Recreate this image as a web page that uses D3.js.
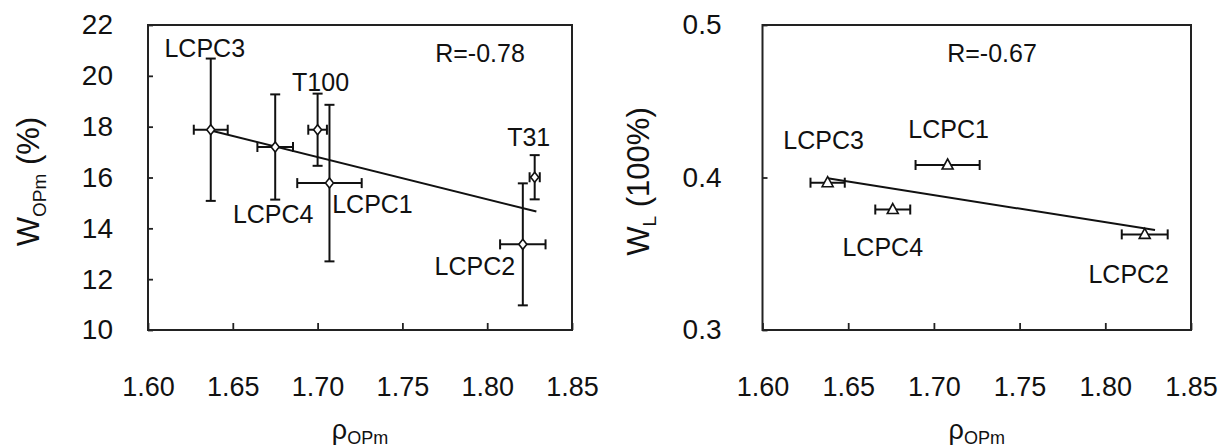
<!DOCTYPE html>
<html>
<head>
<meta charset="utf-8">
<script src="https://cdn.jsdelivr.net/npm/d3@7"></script>
<style>
  html, body { margin: 0; padding: 0; background: #fff; }
  svg { display: block; }
  text { font-family: "Liberation Sans", Arial, sans-serif; fill: #111; }
</style>
</head>
<body>
<svg id="chart" width="1218" height="447"></svg>
<script>
// ---------- data ----------
const xTickValues = [1.60, 1.65, 1.70, 1.75, 1.80, 1.85];
const leftYTicks = [10, 12, 14, 16, 18, 20, 22];
const rightYTicks = [0.3, 0.4, 0.5];

const samplesLeft = ["LCPC3", "LCPC4", "T100", "LCPC1", "T31", "LCPC2"];
const rhoLeft     = [1.637, 1.675, 1.700, 1.707, 1.828, 1.821];
const rhoErrLeft  = [0.010, 0.0105, 0.0055, 0.019, 0.003, 0.0134];
const wOPm        = [17.88, 17.20, 17.88, 15.78, 16.01, 13.37];
const wOPmErr     = [2.80, 2.07, 1.42, 3.08, 0.87, 2.40];
const fitLeftX    = [1.637, 1.829];
const fitLeftY    = [17.85, 14.66];
const rLeft       = "R=-0.78";

const samplesRight = ["LCPC3", "LCPC4", "LCPC1", "LCPC2"];
const rhoRight     = [1.638, 1.676, 1.708, 1.823];
const rhoErrRight  = [0.010, 0.0102, 0.0187, 0.0134];
const wL           = [0.3966, 0.379, 0.4082, 0.3627];
const fitRightX    = [1.638, 1.829];
const fitRightY    = [0.3995, 0.3655];
const rRight       = "R=-0.67";

// label offsets (px) relative to each point
const labelOffLeft  = [[-6, -73], [-2, 76], [3, -39], [43, 30], [-6, -31], [-48, 31]];
const labelOffRight = [[-4, -34], [-10, 46], [1, -27], [-16, 49]];

// ---------- drawing ----------
const svg = d3.select("#chart");
const fmt2 = d3.format(".2f");

function panel(opts) {
  const x = d3.scaleLinear().domain([1.60, 1.85]).range([opts.left, opts.right]);
  const y = d3.scaleLinear().domain(opts.yDomain).range([opts.bottom, opts.top]);
  const g = svg.append("g");

  // x axis (inward ticks)
  g.append("g")
    .attr("transform", `translate(0,${opts.bottom})`)
    .call(d3.axisBottom(x).tickValues(xTickValues).tickFormat(fmt2).tickSize(-7).tickPadding(47))
    .call(a => a.select(".domain").remove())
    .call(a => a.selectAll("line").attr("stroke", "#222").attr("stroke-width", 1.8))
    .call(a => a.selectAll("text").attr("font-size", 27).attr("fill", "#111")
      .attr("font-family", '"Liberation Sans", Arial, sans-serif'));

  // y axis
  g.append("g")
    .attr("transform", `translate(${opts.left},0)`)
    .call(d3.axisLeft(y).tickValues(opts.yTicks).tickFormat(opts.yFormat).tickSize(-5).tickPadding(opts.yPad))
    .call(a => a.select(".domain").remove())
    .call(a => a.selectAll("line").attr("stroke", "#222").attr("stroke-width", 1.8))
    .call(a => a.selectAll("text").attr("font-size", 28).attr("fill", "#111")
      .attr("font-family", '"Liberation Sans", Arial, sans-serif'));

  // frame
  g.append("rect")
    .attr("x", opts.left).attr("y", opts.top)
    .attr("width", opts.right - opts.left).attr("height", opts.bottom - opts.top)
    .attr("fill", "none").attr("stroke", "#222").attr("stroke-width", 2);

  // regression line
  g.append("line")
    .attr("x1", x(opts.fitX[0])).attr("y1", y(opts.fitY[0]))
    .attr("x2", x(opts.fitX[1])).attr("y2", y(opts.fitY[1]))
    .attr("stroke", "#111").attr("stroke-width", 2);

  const pts = opts.names.map((n, i) => ({
    name: n, x: opts.xs[i], xe: opts.xe[i], y: opts.ys[i],
    ye: opts.ye ? opts.ye[i] : 0, off: opts.off[i]
  }));

  const eb = g.append("g").attr("stroke", "#111").attr("stroke-width", 2).attr("fill", "none");
  const cap = 5;
  pts.forEach(p => {
    const cx = x(p.x), cy = y(p.y);
    const x0 = x(p.x - p.xe), x1 = x(p.x + p.xe);
    eb.append("line").attr("x1", x0).attr("x2", x1).attr("y1", cy).attr("y2", cy);
    eb.append("line").attr("x1", x0).attr("x2", x0).attr("y1", cy - cap).attr("y2", cy + cap);
    eb.append("line").attr("x1", x1).attr("x2", x1).attr("y1", cy - cap).attr("y2", cy + cap);
    if (p.ye) {
      const y0 = y(p.y - p.ye), y1 = y(p.y + p.ye);
      eb.append("line").attr("x1", cx).attr("x2", cx).attr("y1", y0).attr("y2", y1);
      eb.append("line").attr("x1", cx - cap).attr("x2", cx + cap).attr("y1", y0).attr("y2", y0);
      eb.append("line").attr("x1", cx - cap).attr("x2", cx + cap).attr("y1", y1).attr("y2", y1);
    }
  });

  // markers
  g.append("g").selectAll("path").data(pts).join("path")
    .attr("transform", d => `translate(${x(d.x)},${y(d.y)})`)
    .attr("d", opts.marker)
    .attr("fill", "#fff").attr("stroke", "#111").attr("stroke-width", 1.6);

  // labels
  g.append("g").selectAll("text").data(pts).join("text")
    .attr("x", d => x(d.x) + d.off[0]).attr("y", d => y(d.y) + d.off[1])
    .attr("text-anchor", "middle").attr("font-size", 25)
    .text(d => d.name);

  // R label
  g.append("text").attr("x", opts.rPos[0]).attr("y", opts.rPos[1])
    .attr("text-anchor", "middle").attr("font-size", 25).text(opts.rText);

  // x title  rho_OPm
  const xt = g.append("text")
    .attr("x", (opts.left + opts.right) / 2).attr("y", 439)
    .attr("text-anchor", "middle");
  xt.append("tspan").attr("font-size", 27).text("ρ");
  xt.append("tspan").attr("font-size", 18).attr("dy", 5).text("OPm");

  // y title
  const yt = g.append("text")
    .attr("transform", `translate(${opts.yTitleX},${(opts.top + opts.bottom) / 2 + 4}) rotate(-90)`)
    .attr("text-anchor", "middle");
  yt.append("tspan").attr("font-size", 31).text("W");
  yt.append("tspan").attr("font-size", 19).attr("dy", 7).text(opts.ySub);
  yt.append("tspan").attr("font-size", 31).attr("dy", -7).text(opts.yRest);
}

const diamond = "M0,-5 L4,0 L0,5 L-4,0 Z";
const triangle = "M0,-6 L5.5,4 L-5.5,4 Z";

panel({
  left: 148, right: 572, top: 25, bottom: 330,
  yDomain: [10, 22], yTicks: leftYTicks, yFormat: d3.format("d"), yPad: 35,
  names: samplesLeft, xs: rhoLeft, xe: rhoErrLeft, ys: wOPm, ye: wOPmErr,
  fitX: fitLeftX, fitY: fitLeftY, off: labelOffLeft, marker: diamond,
  rText: rLeft, rPos: [480, 62], yTitleX: 39, ySub: "OPm", yRest: " (%)"
});

panel({
  left: 762.5, right: 1191, top: 25, bottom: 330,
  yDomain: [0.3, 0.5], yTicks: rightYTicks, yFormat: d3.format(".1f"), yPad: 41,
  names: samplesRight, xs: rhoRight, xe: rhoErrRight, ys: wL, ye: null,
  fitX: fitRightX, fitY: fitRightY, off: labelOffRight, marker: triangle,
  rText: rRight, rPos: [992, 62], yTitleX: 649, ySub: "L", yRest: " (100%)"
});
</script>
</body>
</html>
